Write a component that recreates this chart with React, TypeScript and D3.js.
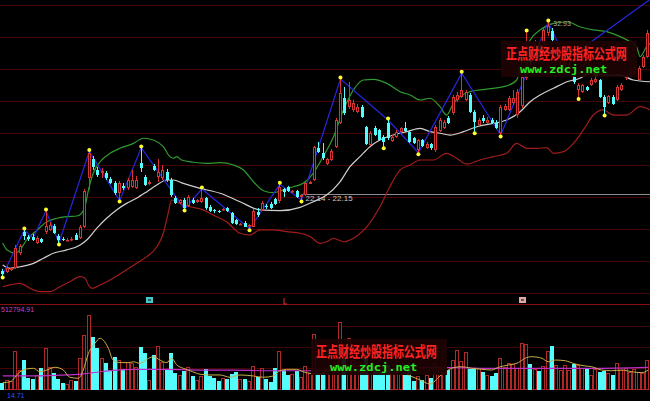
import React from 'react';
import * as d3 from 'd3';

const W = 650;
const H = 401;

// ---- price data (OHLC) ----
const openP = [17.36,17.30,17.43,17.55,18.49,19.80,19.49,19.46,19.11,19.36,
19.80,19.93,20.18,19.55,19.39,19.27,19.30,19.64,19.43,20.11,
23.18,24.36,23.68,23.49,23.49,23.11,22.86,22.24,22.68,22.55,
22.61,22.55,24.11,23.24,22.80,23.93,23.24,23.18,23.55,23.05,
21.93,21.61,21.80,21.43,21.80,21.68,21.68,21.93,21.36,21.18,
21.11,21.18,21.30,20.99,20.52,20.27,20.39,20.18,20.14,21.05,
21.18,21.43,21.55,21.86,21.71,22.49,22.61,22.27,22.36,21.99,
22.11,22.83,23.05,25.05,24.74,24.05,24.30,25.11,26.61,28.18,
27.61,27.43,27.30,27.61,26.36,25.24,26.30,26.18,25.74,26.61,
25.49,25.74,26.05,26.30,26.05,25.68,24.93,25.55,25.05,25.30,
24.93,26.11,26.30,26.93,27.24,28.05,28.24,28.05,28.36,27.30,
26.49,26.93,26.64,26.80,26.61,25.99,27.43,27.43,27.86,27.11,
27.68,29.43,31.18,30.68,31.49,30.68,32.24,32.36,30.55,30.18,
30.30,29.93,29.68,28.68,28.55,28.86,28.99,29.18,29.30,28.24,
27.86,28.24,28.05,28.68,29.43,29.61,29.74,29.30,30.11,30.74];

const highP = [17.49,17.68,17.61,18.99,19.05,19.93,19.61,19.68,19.55,19.43,
21.11,20.43,20.30,19.68,19.49,19.43,19.49,19.74,20.24,22.49,
24.83,24.55,23.86,23.80,23.61,23.24,22.99,22.99,22.86,23.18,
23.68,23.30,25.05,23.36,23.05,24.05,24.36,23.99,23.74,23.18,
22.05,21.86,21.93,22.11,21.93,21.86,22.49,21.99,21.49,21.24,
21.18,21.30,21.36,21.05,20.61,20.36,20.49,20.30,21.24,21.30,
21.74,21.55,21.68,21.93,22.78,22.55,22.68,22.43,22.43,22.18,
22.93,22.99,25.18,25.43,25.36,24.43,24.99,26.93,29.36,28.86,
29.18,28.05,27.80,27.74,26.43,26.11,26.43,26.24,25.86,26.80,
25.86,26.18,26.36,26.68,26.11,25.74,25.61,25.61,25.43,25.36,
26.49,26.93,26.80,27.05,28.36,28.55,29.72,28.68,28.49,27.43,
26.93,27.11,26.99,26.93,26.80,27.74,27.80,28.30,28.68,28.74,
29.61,32.30,31.49,31.80,31.68,32.61,32.93,32.55,31.30,30.86,
30.68,30.43,29.74,29.11,29.05,28.93,29.43,29.53,29.36,28.36,
28.36,28.36,28.99,29.11,29.74,30.05,30.24,30.18,30.86,32.43];

const lowP = [17.05,17.24,17.36,17.49,18.36,19.30,19.24,19.24,19.05,19.11,
19.68,19.86,19.68,19.11,19.24,19.24,19.24,19.30,19.36,20.05,
22.43,23.68,23.24,23.18,23.05,22.80,22.11,21.80,22.43,22.43,
22.55,22.49,23.55,22.68,22.74,23.61,22.93,23.05,22.93,21.99,
21.55,21.55,21.24,21.36,21.55,21.61,21.61,21.18,21.05,20.99,
20.99,21.11,21.05,20.30,20.24,20.24,20.11,20.01,20.11,20.74,
21.11,21.24,21.24,21.49,21.61,21.99,22.30,22.24,21.93,21.80,
22.05,22.80,22.99,24.74,24.30,23.99,24.24,25.05,26.55,27.11,
27.49,27.30,27.24,26.93,25.24,25.18,25.80,25.49,25.13,25.55,
25.43,25.68,25.99,26.05,25.36,25.30,24.76,25.11,24.99,24.93,
24.80,26.05,26.24,26.55,27.11,27.93,28.18,27.99,27.24,26.07,
26.43,26.61,26.55,26.55,26.24,25.86,27.36,27.36,27.74,26.93,
27.55,29.30,30.30,30.55,30.43,30.55,32.05,31.68,30.43,30.05,
30.18,29.80,29.05,28.20,28.49,28.61,28.93,29.11,28.18,27.17,
27.80,27.74,27.99,28.61,29.30,29.55,29.68,29.18,30.05,30.68];

const closeP = [17.18,17.55,17.55,18.80,18.93,19.55,19.36,19.30,19.43,19.18,
20.18,20.24,19.74,19.30,19.30,19.33,19.36,19.33,20.11,22.36,
24.74,23.86,23.36,23.61,23.18,22.86,22.24,22.86,22.55,23.05,
23.05,23.05,23.80,22.74,22.93,23.68,23.55,23.68,23.05,22.11,
21.61,21.80,21.30,21.99,21.61,21.80,21.93,21.30,21.14,21.11,
21.05,21.24,21.11,20.39,20.30,20.33,20.14,20.24,21.14,20.86,
21.61,21.36,21.33,21.55,22.64,22.30,22.36,22.36,21.99,22.11,
22.86,22.93,25.11,24.80,24.43,24.36,24.86,26.80,28.49,27.24,
28.05,27.86,27.61,26.99,25.30,25.99,25.86,25.55,25.43,25.68,
25.74,26.05,26.30,26.11,25.43,25.36,25.55,25.18,25.30,25.05,
26.36,26.80,26.68,26.61,28.24,28.36,28.68,28.55,27.30,26.68,
26.80,26.71,26.80,26.64,26.30,27.61,27.68,28.18,28.18,28.55,
29.49,30.86,30.43,31.49,30.68,32.43,32.68,31.80,31.05,30.68,
30.55,30.30,29.18,28.99,28.99,28.68,29.30,29.36,28.24,27.61,
28.30,27.80,28.86,28.99,29.61,29.93,30.11,30.05,30.74,32.24];

// volume, thousands
const volume = [45.5,64,59,266,133,202,80,71,99,145,
283,152,110,69,41,35,64,59,214,375,
512.79,359,283,214,179,133,221,202,140,190,
179,156,294,248,64,237,299,190,140,248,
110,99,126,152,92,64,92,138,92,76,
59,76,69,104,121,69,69,59,161,83,
145,69,52,145,266,133,99,106,128,83,
161,110,382,110,115,147,161,237,462,271,
352,202,188,147,237,168,161,133,119,168,
106,119,106,99,147,59,92,64,99,76,
179,145,152,133,202,271,197,259,140,149,
145,121,99,92,110,214,156,179,175,145,
322,313,175,138,126,161,266,301,168,133,
168,133,175,168,145,140,99,138,121,126,
110,99,179,133,145,121,140,121,110,202];

// Bollinger bands: [candle index, price]
const upperBand = [[0,19.11],[1,18.68],[3,18.49],[4,18.68],[5.5,19.30],[8,19.93],[10.2,20.44],[12.5,20.66],[14.8,20.76],[17.1,20.80],[18.2,20.97],[19,21.38],[19.8,22.43],[20.9,23.47],[22.5,24.19],[24.8,24.72],[27.1,25.03],[30.2,25.34],[32.5,25.66],[34.8,25.55],[37.1,25.13],[38.6,24.51],[39.4,24.41],[40.2,24.51],[41.3,24.30],[44,24.16],[47.1,24.09],[50.2,24.13],[53.3,23.99],[55.6,23.68],[57.9,22.94],[60.2,22.38],[62.5,22.26],[64.8,22.43],[67.1,22.63],[69.4,22.84],[71.7,23.47],[74,24.51],[76.4,25.76],[78.7,27.43],[81,28.68],[83.3,29.30],[85.6,29.34],[88.7,29.09],[91.8,28.57],[94.1,28.36],[96.4,28.05],[98.7,28.16],[101,27.63],[102.5,27.11],[104.1,27.84],[105.6,28.26],[107.9,28.57],[110.2,28.68],[113.3,28.78],[116.4,28.93],[118.7,29.30],[120.2,30.76],[121.8,31.80],[124.1,32.43],[127.2,32.84],[130.3,32.94],[133.3,32.63],[136.4,32.43],[139.5,32.32],[142.6,32.01],[144.9,31.69],[146.4,31.38],[147.2,30.76],[148.7,31.38],[149.5,31.59]];
const midBand = [[0,17.74],[1.7,17.53],[4,17.63],[7.1,17.84],[9.4,18.16],[11.7,18.47],[14.8,18.68],[17.9,18.99],[19.4,19.30],[21.7,20.03],[24,20.66],[26.3,21.18],[28.6,21.59],[30.9,21.91],[33.3,22.32],[35.6,22.74],[37.9,23.05],[39.4,23.05],[41.7,22.84],[45.6,22.53],[50.2,22.22],[54.8,21.69],[59.4,21.18],[64,21.13],[68.7,21.34],[71.7,21.69],[74.8,22.11],[77.9,22.94],[80.2,23.88],[82.5,24.51],[84.8,25.13],[87.1,25.55],[90.2,25.86],[93.3,26.07],[96.4,26.28],[98.7,26.07],[101,25.97],[103.3,25.86],[106.4,26.07],[109.5,26.38],[113.3,26.59],[116.4,26.80],[119.5,27.32],[121.8,27.94],[124.1,28.36],[127.2,28.78],[130.3,29.19],[133.3,29.41],[135.6,29.72],[139.5,29.61],[142.6,29.61],[145.6,29.30],[149.5,29.19]];
const lowerBand = [[0,16.38],[1.7,16.49],[4,16.59],[6.3,16.28],[8.6,16.07],[10.9,16.07],[13.2,16.38],[15.5,16.69],[17.9,17.01],[19,16.91],[19.8,16.49],[20.6,16.28],[22.5,16.49],[24.8,16.80],[27.9,17.32],[30.9,17.84],[33.3,18.26],[35.6,18.88],[37.1,19.72],[38.2,20.97],[39,21.80],[40.9,21.59],[43.3,21.38],[46.3,21.18],[48.6,20.86],[51.7,20.44],[54.8,19.72],[57.1,19.61],[59.4,19.93],[62.5,19.93],[65.6,19.82],[68.7,19.72],[71,19.51],[73.3,19.09],[74.8,19.19],[76.4,19.41],[78.7,19.19],[81,19.41],[84.1,20.13],[87.1,21.38],[89.4,22.63],[91.8,23.68],[94.1,23.99],[96.4,24.30],[99.5,24.30],[102.5,24.72],[104.8,24.41],[107.2,24.05],[110.2,24.30],[113.3,24.51],[116.4,24.72],[118.7,25.34],[121,25.03],[123.3,25.03],[125.6,25.07],[127.2,24.72],[129.5,24.82],[131.8,25.34],[134.1,26.18],[136.4,27.11],[138.7,27.43],[141,27.11],[144.1,27.11],[147.2,27.63],[149.5,27.43]];

// zigzag vertices
const zzIdx = [0,5,7,10,13,20,27,32,42,46,57,64,69,78,89,96,106,115,126,130,150];
const zzPrice = [17.11,19.93,19.43,21.11,19.13,24.83,21.76,25.07,21.24,22.49,20.01,22.78,21.80,29.36,26.80,24.76,29.72,25.86,32.93,30.55,34.43];

// yellow markers
const peakIdx = [5,10,20,32,46,64,78,89,106,121,126,137];
const troughIdx = [0,13,27,42,57,69,88,96,109,115,133,139];

// volume moving averages: [candle index, volume k]
const volMaShort = [[0,45.5],[1.7,52],[4,121],[5.5,140],[7.1,145],[8.6,121],[10.2,133],[12.1,152],[14,133],[15.5,83],[17.5,76],[18.6,133],[19.8,248],[21.3,317],[22.5,352],[23.2,340],[24.4,283],[25.5,202],[27.1,184],[29,184],[30.2,190],[31.7,179],[33.3,207],[34.8,225],[36.3,202],[37.9,184],[39,214],[40.2,168],[41.7,145],[43.3,128],[45.6,104],[47.9,99],[50.2,99],[52.5,83],[54.8,99],[57.9,92],[60.2,83],[62.5,92],[64,128],[65.6,138],[67.9,138],[69.4,121],[71,110],[72.1,106],[77.9,147],[84.8,161],[90.6,133],[93.6,99],[96.4,64],[98.7,37],[101,92],[103.7,145],[106,156],[108.3,145],[110.6,138],[112.9,133],[114.5,152],[116.8,168],[119.1,184],[120.6,214],[122.2,225],[124.5,214],[126,190],[127.6,202],[129.9,197],[132.2,175],[134.5,161],[136,156],[138.3,133],[140.6,128],[143,133],[145.3,121],[147.6,115],[149.1,133]];
const volMaLong = [[0,92],[7.1,92],[14.8,99],[18.6,106],[22.5,121],[30.2,138],[37.9,138],[45.6,133],[53.3,133],[61,128],[68.7,128],[71.7,128],[87.1,140],[101,152],[112.9,145],[120.6,145],[128.3,145],[136,145],[149.1,152]];

const gridPrices = [16, 18, 20, 22, 24, 26, 28, 30, 32, 34];
const volGrid = [146, 292, 438];
const levelPrice = 22.15;
const levelStart = 69;
const markerIdx = [34, 65, 120];
const markerColor = ['#46c8c8', '#e03030', '#e0a8a8'];

const RED = '#d83434';
const VRED = '#b02828';
const CYAN = '#54fcfc';

function Watermark({ x0, y0 }: { x0: number; y0: number }) {
  return (
    <g>
      <rect x={x0} y={y0} width={136} height={36} fill="#1e0303" opacity={0.93} />
      <g transform={`translate(${x0 + 5},${y0 + 18}) scale(1,1.35)`}>
        <text x={0} y={0} fontSize={11} fontWeight="bold" fill="#ff2222"
          fontFamily="'Noto Sans CJK SC', sans-serif">
          正点财经炒股指标公式网
        </text>
      </g>
      <g transform={`translate(${x0 + 19},${y0 + 32}) scale(1.1,1)`}>
        <text x={0} y={0} fontSize={11} fontWeight="bold" fill="#22ee22"
          fontFamily="'DejaVu Sans Mono', monospace">
          www.zdcj.net
        </text>
      </g>
    </g>
  );
}

export default function App() {
  const x = d3.scaleLinear().domain([0, 149]).range([2.7, 647.9]);
  const y = d3.scaleLinear().domain([34.3, 15.7375]).range([0, 297]);
  const yv = d3.scaleLinear().domain([0, 512.79]).range([389.3, 315]);

  const bandLine = d3.line<number[]>().x(d => x(d[0])).y(d => y(d[1])).curve(d3.curveMonotoneX);
  const volLine = d3.line<number[]>().x(d => x(d[0])).y(d => yv(d[1])).curve(d3.curveMonotoneX);
  const zzLine = d3.line<number>().x((d, k) => x(zzIdx[k])).y(d => y(d));

  const px = (i: number) => Math.floor(x(i));

  return (
    <svg width={W} height={H} style={{ position: 'absolute', left: 0, top: 0, display: 'block', background: '#000' }}>
      <defs>
        <clipPath id="mainClip"><rect x={0} y={0} width={W} height={297} /></clipPath>
        <clipPath id="volClip"><rect x={0} y={305} width={W} height={86} /></clipPath>
      </defs>
      <rect x={0} y={0} width={W} height={H} fill="#000" />

      {/* grid lines main */}
      {gridPrices.map(p => (
        <line key={p} x1={0} x2={W} y1={Math.round(y(p)) + 0.5} y2={Math.round(y(p)) + 0.5} stroke="#420606" strokeWidth={1} />
      ))}
      {/* volume grid */}
      {volGrid.map(v => (
        <line key={v} x1={0} x2={W} y1={Math.round(yv(v)) + 0.5} y2={Math.round(yv(v)) + 0.5} stroke="#420606" strokeWidth={1} />
      ))}
      <line x1={0} x2={W} y1={304.5} y2={304.5} stroke="#8a1010" strokeWidth={1} />
      <line x1={0} x2={W} y1={389.5} y2={389.5} stroke="#8a1010" strokeWidth={1} />

      <g clipPath="url(#mainClip)">
        {/* level line */}
        <line x1={x(levelStart)} x2={W} y1={Math.round(y(levelPrice)) + 0.5} y2={Math.round(y(levelPrice)) + 0.5} stroke="#8c8c8c" strokeWidth={1} />

        {/* bands */}
        <path d={bandLine(lowerBand) || ''} fill="none" stroke="#a01c1c" strokeWidth={1.2} />
        <path d={bandLine(midBand) || ''} fill="none" stroke="#cfcfcf" strokeWidth={1.2} />
        <path d={bandLine(upperBand) || ''} fill="none" stroke="#2f9a2f" strokeWidth={1.2} />

        {/* zigzag */}
        <path d={zzLine(zzPrice) || ''} fill="none" stroke="#2626e0" strokeWidth={1.2} />

        {/* candles */}
        {openP.map((o, i) => {
          const c = closeP[i];
          const up = c >= o;
          const col = up ? RED : CYAN;
          const p = px(i);
          const top = Math.round(y(Math.max(o, c)));
          const bot = Math.round(y(Math.min(o, c)));
          const h = Math.max(1, bot - top);
          return (
            <g key={i}>
              <line x1={p + 0.5} x2={p + 0.5} y1={y(highP[i])} y2={y(lowP[i])} stroke={col} strokeWidth={1} />
              {up ? (
                <rect x={p - 0.5} y={top + 0.5} width={2} height={Math.max(0.5, h - 1)} fill="#000" stroke={col} strokeWidth={1} />
              ) : (
                <rect x={p - 1} y={top} width={3} height={h} fill={col} />
              )}
            </g>
          );
        })}

        {/* markers */}
        {peakIdx.map(i => (
          <circle key={'p' + i} cx={x(i)} cy={y(highP[i]) - 1.5} r={2} fill="#ffff30" />
        ))}
        {troughIdx.map(i => (
          <circle key={'t' + i} cx={x(i)} cy={y(lowP[i]) + 1.5} r={2} fill="#ffff30" />
        ))}
      </g>

      <text x={x(levelStart) + 4} y={y(levelPrice) + 7} fontSize={8} fill="#c8c8c8" fontFamily="'Liberation Sans', Arial, sans-serif">22.14 - 22.15</text>
      <text x={x(126) + 5} y={y(32.93) + 4.5} fontSize={7} fill="#a8a8a8" fontFamily="'Liberation Sans', Arial, sans-serif">32.93</text>

      <Watermark x0={501} y0={41} />

      {/* signal markers on separator */}
      {markerIdx.map((i, k) => (
        k === 1 ? (
          <path key={i} d={`M${px(i)},298 L${px(i)},304 L${px(i) + 3},304`} fill="none" stroke={markerColor[k]} strokeWidth={1} />
        ) : (
          <g key={i}>
            <rect x={px(i) - 3} y={297} width={7} height={6} fill={markerColor[k]} />
            <rect x={px(i) - 1} y={299} width={3} height={2} fill="#000" opacity={0.5} />
          </g>
        )
      ))}

      {/* volume */}
      <g clipPath="url(#volClip)">
        {volume.map((v, i) => {
          const up = closeP[i] >= openP[i];
          const p = px(i);
          const top = Math.round(yv(v));
          const h = 389 - top;
          return up ? (
            <rect key={i} x={p - 1.5} y={top + 0.5} width={3} height={h} fill="#000" stroke={VRED} strokeWidth={1} />
          ) : (
            <rect key={i} x={p - 2} y={top} width={4} height={h + 1} fill={CYAN} />
          );
        })}
        <path d={volLine(volMaLong) || ''} fill="none" stroke="#c030c8" strokeWidth={1.2} />
        <path d={volLine(volMaShort) || ''} fill="none" stroke="#c8b048" strokeWidth={1} />
      </g>

      <Watermark x0={311} y0={339} />

      <text x={1} y={312} fontSize={7} fill="#c040c0" fontFamily="'Liberation Sans', Arial, sans-serif">512794.91</text>
      <text x={7} y={398} fontSize={7} fill="#3050ff" fontFamily="'Liberation Sans', Arial, sans-serif">14.71</text>
    </svg>
  );
}
